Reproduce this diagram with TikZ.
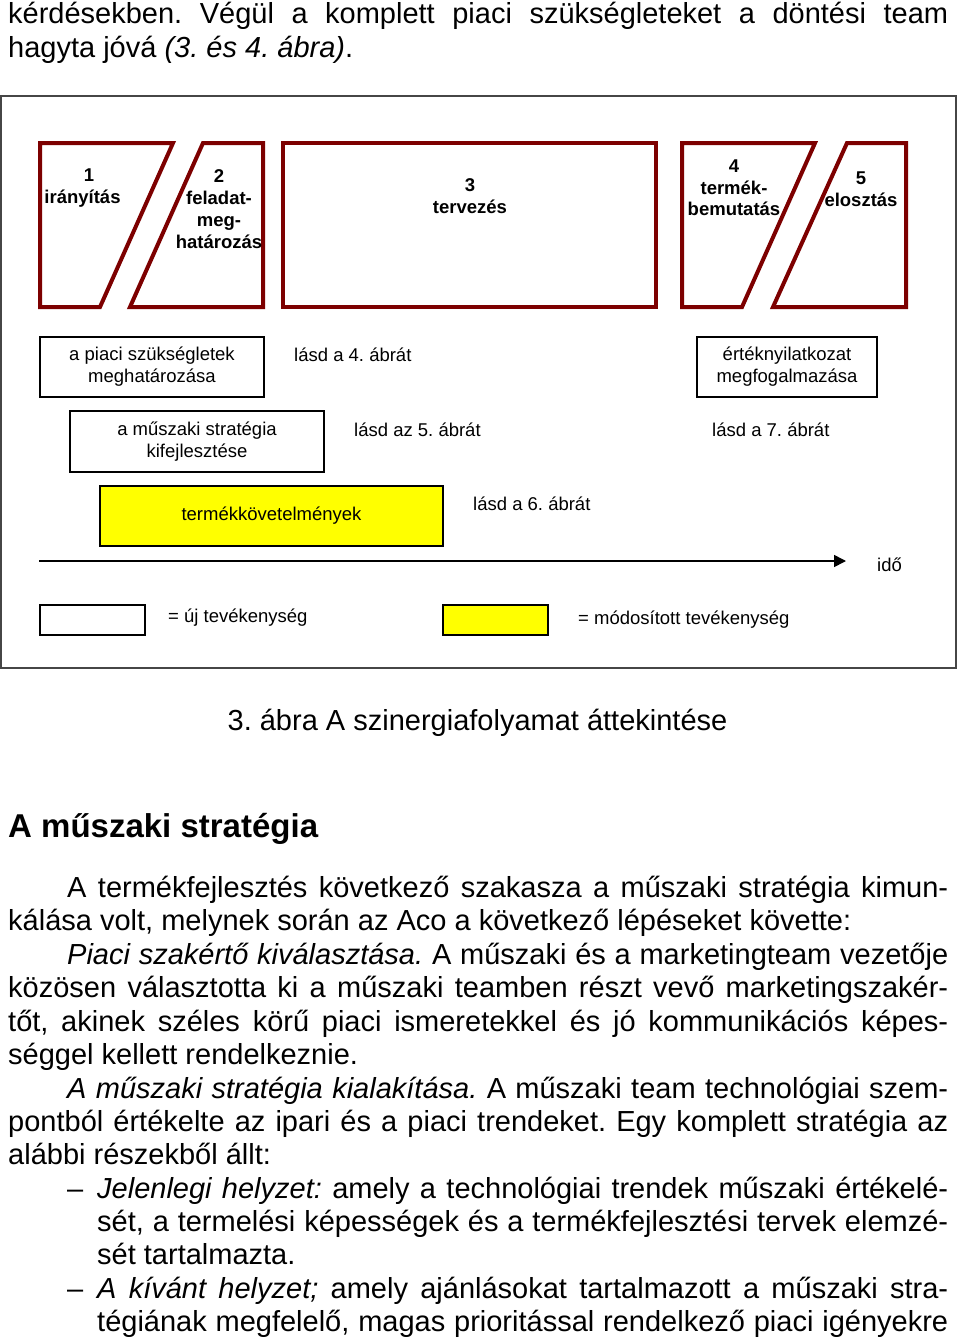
\documentclass[tikz,border=0pt]{standalone}
\usepackage{fontspec}
\setmainfont{Liberation Sans}
\usetikzlibrary{arrows.meta}
\definecolor{phasered}{RGB}{125,0,0}
\definecolor{framegray}{RGB}{70,70,70}
\definecolor{modyellow}{RGB}{255,255,0}
\frenchspacing
\begin{document}
\begin{tikzpicture}[x=1pt,y=-1pt,
  phase/.style={draw=phasered,line width=4pt},
  phasetxt/.style={font=\bfseries\fontsize{18.5}{22}\selectfont,inner sep=0,anchor=base},
  actbox/.style={draw=black,line width=1.6pt,inner sep=0,align=center,font=\fontsize{18.5}{22}\selectfont},
  newact/.style={actbox,fill=white},
  modact/.style={actbox,fill=modyellow},
  smalltxt/.style={font=\fontsize{18.5}{22}\selectfont,inner sep=0,anchor=base west},
  bodytxt/.style={font=\fontsize{29}{33.5}\selectfont,inner sep=0,anchor=base west},
  timeline/.style={line width=1.6pt,-{Triangle[length=12pt,width=12pt]}}]
\useasboundingbox (0,0) rectangle (960,1338);
\fill[white] (0,0) rectangle (960,1338);

% text above the figure
\node[bodytxt] (t1) at (8,24) {\makebox[940pt][s]{kérdésekben. Végül a komplett piaci szükségleteket a döntési team}};
\node[bodytxt] (t2) at (8,57) {hagyta jóvá \textit{(3. és 4. ábra)}.};

% frame
\draw[framegray,line width=2pt] (1,96) rectangle (956,668);

% phases
\draw[phase] (40,143) -- (173,143) -- (100,307) -- (40,307) -- cycle;
\draw[phase] (203,143) -- (263,143) -- (263,307) -- (130,307) -- cycle;
\draw[phase] (283,143) rectangle (656,307);
\draw[phase] (682,143) -- (815,143) -- (742,307) -- (682,307) -- cycle;
\draw[phase] (847,143) -- (906,143) -- (906,307) -- (773,307) -- cycle;

\node[phasetxt] (p1a) at (89,181) {1};
\node[phasetxt] (p1b) at (82.5,203) {irányítás};
\node[phasetxt] (p2a) at (219,182) {2};
\node[phasetxt] (p2b) at (219,204) {feladat-};
\node[phasetxt] (p2c) at (219,226) {meg-};
\node[phasetxt] (p2d) at (219,248) {határozás};
\node[phasetxt] (p3a) at (470,191) {3};
\node[phasetxt] (p3b) at (470,213) {tervezés};
\node[phasetxt] (p4a) at (734,172) {4};
\node[phasetxt] (p4b) at (734,194) {termék-};
\node[phasetxt] (p4c) at (734,215) {bemutatás};
\node[phasetxt] (p5a) at (861,184) {5};
\node[phasetxt] (p5b) at (861,206) {elosztás};

% activities
\node[newact,minimum width=224pt,minimum height=60pt] (piac) at (152,367) {a piaci szükségletek\\meghatározása};
\node[newact,minimum width=254pt,minimum height=61pt] (muszaki) at (197,441.5) {a műszaki stratégia\\kifejlesztése};
\node[modact,minimum width=343pt,minimum height=60pt] (termek) at (271.5,516) {termékkövetelmények};
\node[newact,minimum width=180pt,minimum height=60pt] (ertek) at (787,367) {értéknyilatkozat\\megfogalmazása};

\node[smalltxt] (l4) at (294,361.5) {lásd a 4. ábrát};
\node[smalltxt] (l5) at (354,436.5) {lásd az 5. ábrát};
\node[smalltxt] (l6) at (473,510.5) {lásd a 6. ábrát};
\node[smalltxt] (l7) at (712,436.5) {lásd a 7. ábrát};

% time axis
\coordinate (tstart) at (39,561);
\coordinate (tend) at (846,561);
\draw[timeline] (tstart) -- (tend);
\node[smalltxt] (ido) at (877,571) {idő};

% legend
\node[newact,minimum width=105pt,minimum height=30pt] (legnew) at (92.5,620) {};
\node[smalltxt] (legnewtxt) at (168,622.5) {= új tevékenység};
\node[modact,minimum width=105pt,minimum height=30pt] (legmod) at (495.5,620) {};
\node[smalltxt] (legmodtxt) at (578,624.5) {= módosított tevékenység};

% caption
\node[font=\fontsize{29}{33.5}\selectfont,inner sep=0,anchor=base] (cap) at (477.5,730) {3. ábra A szinergiafolyamat áttekintése};

% heading
\node[font=\bfseries\fontsize{33}{38}\selectfont,inner sep=0,anchor=base west] (head) at (8,837) {A műszaki stratégia};

% body text
\node[bodytxt] (b1) at (67,897) {\makebox[881pt][s]{A termékfejlesztés következő szakasza a műszaki stratégia kimun-}};
\node[bodytxt] (b2) at (8,930) {kálása volt, melynek során az Aco a következő lépéseket követte:};
\node[bodytxt] (b3) at (67,964) {\makebox[881pt][s]{\textit{Piaci szakértő kiválasztása.} A műszaki és a marketingteam vezetője}};
\node[bodytxt] (b4) at (8,997) {\makebox[940pt][s]{közösen választotta ki a műszaki teamben részt vevő marketingszakér-}};
\node[bodytxt] (b5) at (8,1031) {\makebox[940pt][s]{tőt, akinek széles körű piaci ismeretekkel és jó kommunikációs képes-}};
\node[bodytxt] (b6) at (8,1064) {séggel kellett rendelkeznie.};
\node[bodytxt] (b7) at (67,1098) {\makebox[881pt][s]{\textit{A műszaki stratégia kialakítása.} A műszaki team technológiai szem-}};
\node[bodytxt] (b8) at (8,1131) {\makebox[940pt][s]{pontból értékelte az ipari és a piaci trendeket. Egy komplett stratégia az}};
\node[bodytxt] (b9) at (8,1164) {alábbi részekből állt:};
\node[bodytxt] (d1) at (67,1198) {–};
\node[bodytxt] (b10) at (97,1198) {\makebox[851pt][s]{\textit{Jelenlegi helyzet:} amely a technológiai trendek műszaki értékelé-}};
\node[bodytxt] (b11) at (97,1231) {\makebox[851pt][s]{sét, a termelési képességek és a termékfejlesztési tervek elemzé-}};
\node[bodytxt] (b12) at (97,1264) {sét tartalmazta.};
\node[bodytxt] (d2) at (67,1298) {–};
\node[bodytxt] (b13) at (97,1298) {\makebox[851pt][s]{\textit{A kívánt helyzet;} amely ajánlásokat tartalmazott a műszaki stra-}};
\node[bodytxt] (b14) at (97,1331) {\makebox[851pt][s]{tégiának megfelelő, magas prioritással rendelkező piaci igényekre}};
\end{tikzpicture}
\end{document}
